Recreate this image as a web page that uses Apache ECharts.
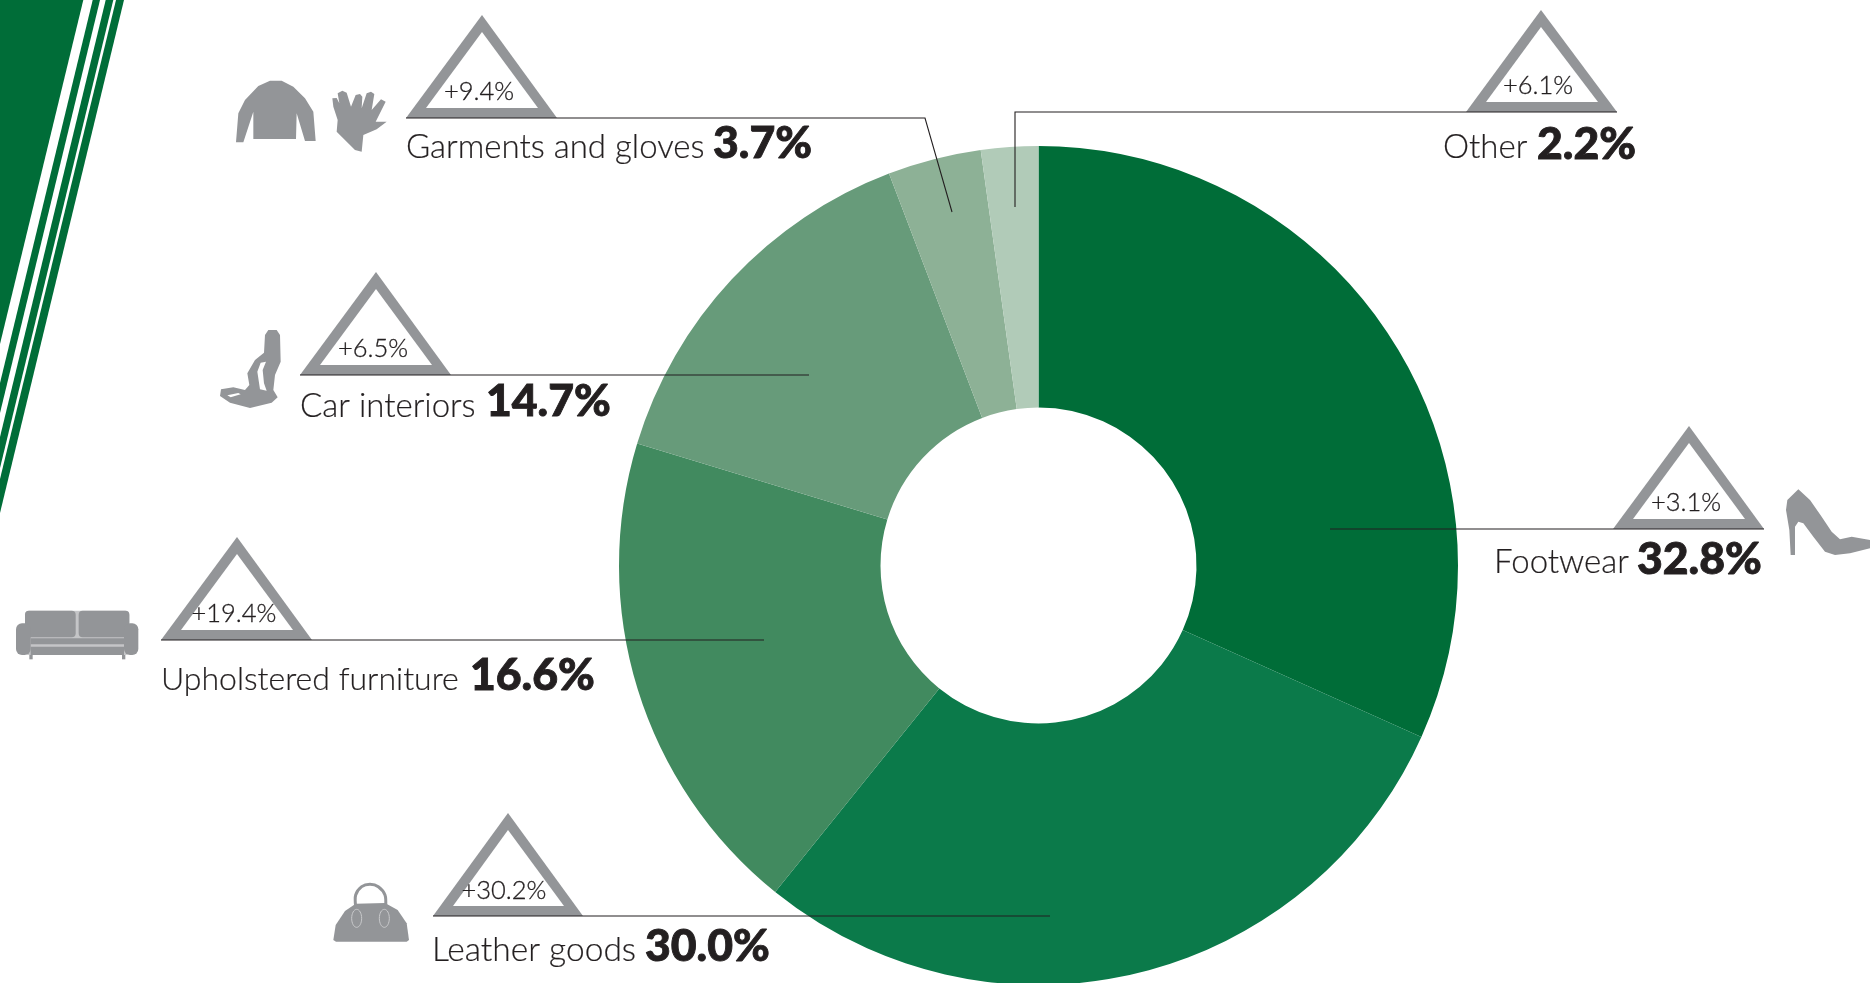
<!DOCTYPE html>
<html>
<head>
<meta charset="utf-8">
<style>html,body{margin:0;padding:0;background:#fff}#c{width:1870px;height:983px}</style>
<script src="https://cdn.jsdelivr.net/npm/echarts@6/dist/echarts.min.js"></script>
</head>
<body>
<div id="c"></div>
<script>
// Data
const categories = ['Footwear', 'Leather goods', 'Upholstered furniture', 'Car interiors', 'Garments and gloves', 'Other'];
// Shares printed in the reference's labels
const printedShares = ['32.8%', '30.0%', '16.6%', '14.7%', '3.7%', '2.2%'];
// Year-on-year changes printed inside the triangles
const changes = ['+3.1%', '+30.2%', '+19.4%', '+6.5%', '+9.4%', '+6.1%'];
// Slice sizes measured from the arcs as drawn; the reference's arcs differ slightly from its printed shares
const drawnShares = [31.7, 29.1, 18.9, 14.5, 3.6, 2.2];
const sliceColors = ['#006d38', '#0b7a4a', '#418a5f', '#679b7a', '#8db196', '#b1cbb8'];

// Annotation layout, in page pixels, one entry per category
const triangles = [
  {l:1613,r:1764,apex:[1689,426],base:529},
  {l:433,r:583,apex:[508,813],base:916},
  {l:161,r:312,apex:[237,537],base:640},
  {l:300,r:451,apex:[376,272],base:375},
  {l:406,r:557,apex:[482,15],base:118},
  {l:1466,r:1617,apex:[1541,10],base:112}
];
const leaders = [
  [[1764,529],[1330,529]],
  [[433,916],[1050,916]],
  [[161,640],[764,640]],
  [[300,375],[809,375]],
  [[406,118],[925,118],[952,212]],
  [[1617,112],[1015,112],[1015,207]]
];
const changePos = [[1686,516],[504,904],[234,627],[373,362],[479,105],[1538,99]];
const namePos = [[1494,579],[432,967],[161,696],[300,423],[406,164],[1443,164]];
const valuePos = [[1637,582],[645,969],[470,698],[486,424],[713,166],[1537,167]];
const nameSizes = [33, 33.5, 32, 33, 33, 33];

const GREY = '#939598', INK = '#231f20', BAND = '#006d38';
const g = [];
const poly = (points, fill, z) => g.push({type:'polygon', shape:{points}, style:{fill}, z:z||5, silent:true});
const text = (t, x, y, font, align, weight) => g.push({type:'text', x, y, z:12, silent:true,
  style:{text:t, font, fill:INK, textAlign:align||'left', textVerticalAlign:'bottom', stroke:weight?INK:null, lineWidth:weight||0}});

// Corner band
poly([[0,0],[83.3,0],[0,344]], BAND);
poly([[92.7,0],[100,0],[0,413],[0,383]], BAND);
poly([[105.7,0],[113.3,0],[0,468],[0,437]], BAND);
poly([[116,0],[124,0],[0,513],[0,479]], BAND);

// Triangles, leaders, texts
triangles.forEach((t, i) => {
  poly([[t.l,t.base],[t.apex[0],t.apex[1]],[t.r,t.base]], GREY, 6);
  poly([[t.l+20,t.base-10],[t.apex[0],t.apex[1]+17],[t.r-19,t.base-10]], '#ffffff', 7);
  g.push({type:'polyline', shape:{points:leaders[i]}, style:{stroke:INK, lineWidth:1.1, fill:null}, z:8, silent:true});
  text(changes[i], changePos[i][0], changePos[i][1], '300 25.5px Lato', 'center', 0.3);
  text(categories[i], namePos[i][0], namePos[i][1], '300 ' + nameSizes[i] + 'px Lato', 'left', 0.2);
  text(printedShares[i], valuePos[i][0], valuePos[i][1], '900 44.5px Lato', 'left', 0.9);
});

// Icons: outlines (crop pixels / 3 + crop origin)
const trace = (pts, ox, oy) => pts.map(p => [ox + p[0]/3, oy + p[1]/3]);
const ic = (pts, ox, oy, fill, smooth) => g.push({type:'polygon', shape:{points:trace(pts,ox,oy), smooth:smooth||0}, style:{fill:fill||GREY}, z:5, silent:true});
// jacket and glove
ic([[135,32],[170,32],[205,50],[240,85],[265,125],[272,213],[240,213],[215,130],[213,207],[85,207],[85,125],[55,217],[33,217],[40,130],[60,90],[100,48]],225,70);
ic([[322,85],[335,84],[343,100],[338,70],[352,62],[365,68],[378,110],[392,75],[405,72],[412,80],[410,115],[425,70],[438,65],[448,72],[440,120],[468,88],[482,95],[452,155],[485,155],[455,178],[415,195],[410,245],[390,240],[335,185],[338,150],[325,110]],225,70);
// seat
ic([[165,45],[175,30],[200,30],[210,45],[212,125],[195,165],[190,210],[203,232],[185,248],[120,264],[60,248],[30,228],[33,208],[70,202],[105,210],[118,195],[112,160],[135,120],[162,98]],210,320);
ic([[152,128],[168,125],[158,150],[162,190],[170,212],[150,208],[142,155]],210,320,'#ffffff');
ic([[52,226],[85,219],[92,223],[62,232]],210,320,'#ffffff');
// shoe
ic([[85,28],[120,60],[155,110],[185,155],[210,178],[245,170],[300,180],[300,205],[240,220],[195,225],[165,215],[130,170],[100,130],[85,125],[75,140],[75,225],[62,225],[58,150],[48,90],[52,60]],1770,480);
// sofa
const rr = (x0,y0,x1,y1,r,fill) => g.push({type:'rect', shape:{x:10+x0/3, y:600+y0/3, width:(x1-x0)/3, height:(y1-y0)/3, r}, style:{fill:fill||GREY}, z:5, silent:true});
rr(45,32,358,165,4,'#c4c5c7');
rr(45,32,197,112,4); rr(206,32,358,112,4); rr(18,70,62,165,6); rr(342,70,385,165,6);
rr(62,115,342,133,0); rr(62,140,342,165,0); rr(58,165,68,178,0); rr(336,165,346,178,0);
// bag
ic([[25,195],[32,150],[60,108],[92,86],[180,84],[218,105],[245,145],[252,195],[245,200],[33,200]],325,875);
g.push({type:'polyline', shape:{points:trace([[92,95],[92,60],[110,35],[135,28],[160,35],[180,60],[182,95]],325,875), smooth:0.3},
  style:{stroke:GREY, lineWidth:3, fill:null}, z:5, silent:true});
g.push({type:'ellipse', shape:{cx:325+95/3, cy:875+130/3, rx:5, ry:9}, style:{fill:null, stroke:'#c9cacc', lineWidth:1}, z:6, silent:true});
g.push({type:'ellipse', shape:{cx:325+178/3, cy:875+130/3, rx:5, ry:9}, style:{fill:null, stroke:'#c9cacc', lineWidth:1}, z:6, silent:true});

const chart = echarts.init(document.getElementById('c'), null, {renderer:'canvas'});
chart.setOption({
  animation:false,
  backgroundColor:'#ffffff',
  graphic:{elements:g},
  series:[{
    type:'pie',
    center:[1038.5,565.5],
    radius:[158,419.5],
    startAngle:90,
    clockwise:true,
    sort:null,
    silent:true,
    label:{show:false},
    labelLine:{show:false},
    data:categories.map((name,i)=>({name, value:drawnShares[i], itemStyle:{color:sliceColors[i]}}))
  }]
});
</script>
</body>
</html>
